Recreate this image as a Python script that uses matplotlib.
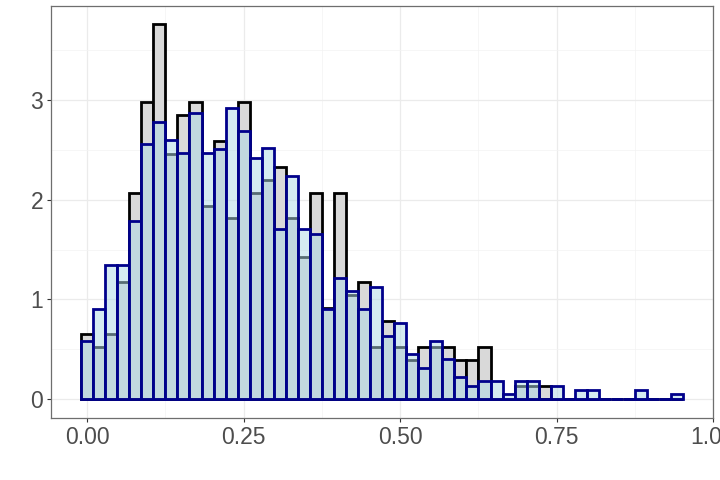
import numpy as np
import matplotlib
matplotlib.use("Agg")
import matplotlib.pyplot as plt
from matplotlib.ticker import MultipleLocator, FixedLocator

# ---- data (density per bin, 50 bins) ----
bin_first_center = 0.0
bin_last_center = 0.9427
n_bins = 50

gray_density = [0.65, 0.52, 0.65, 1.17, 2.07, 2.98, 3.76, 2.46, 2.85, 2.98,
                1.94, 2.59, 1.82, 2.98, 2.07, 2.20, 2.33, 1.82, 1.43, 2.07,
                0.91, 2.07, 1.04, 1.17, 0.52, 0.78, 0.52, 0.39, 0.52, 0.52,
                0.52, 0.39, 0.39, 0.52, 0.00, 0.00, 0.13, 0.13, 0.13, 0.00,
                0.00, 0.00, 0.00, 0.00, 0.00, 0.00, 0.00, 0.00, 0.00, 0.00]

blue_density = [0.58, 0.90, 1.34, 1.34, 1.79, 2.56, 2.78, 2.60, 2.47, 2.87,
                2.47, 2.51, 2.92, 2.69, 2.42, 2.52, 1.71, 2.24, 1.71, 1.66,
                0.90, 1.21, 1.08, 0.90, 1.12, 0.63, 0.76, 0.45, 0.31, 0.58,
                0.40, 0.22, 0.13, 0.18, 0.18, 0.045, 0.18, 0.18, 0.00, 0.13,
                0.00, 0.09, 0.09, 0.00, 0.00, 0.00, 0.09, 0.00, 0.00, 0.045]

x_ticks = [0.0, 0.25, 0.5, 0.75, 1.0]
x_tick_labels = ["0.00", "0.25", "0.50", "0.75", "1.00"]
y_ticks = [0, 1, 2, 3]
y_tick_labels = ["0", "1", "2", "3"]

# ---- layout ----
fig = plt.figure(figsize=(7.2, 4.8), dpi=100)
ax = fig.add_axes([51/720, (480-417.7)/480, (713.3-51)/720, (417.7-5.7)/480])

width = (bin_last_center - bin_first_center) / (n_bins - 1)
edges = np.linspace(bin_first_center - width/2, bin_last_center + width/2, n_bins + 1)

ax.bar(edges[:-1], gray_density, width=width, align='edge',
       facecolor='#D9D9D9', edgecolor='black', linewidth=2.0,
       joinstyle='miter', zorder=3)
ax.bar(edges[:-1], blue_density, width=width, align='edge',
       facecolor=(173/255, 216/255, 230/255, 0.5), edgecolor='#00008B',
       linewidth=2.0, joinstyle='miter', zorder=4)

# ggplot-like 5% expansion
xmin, xmax = edges[0], edges[-1]
xr = xmax - xmin
ax.set_xlim(xmin - 0.05*xr, xmax + 0.05*xr)
ymax = max(max(gray_density), max(blue_density))
ax.set_ylim(-0.05*ymax, 1.05*ymax)

ax.xaxis.set_major_locator(FixedLocator(x_ticks))
ax.set_xticklabels(x_tick_labels)
ax.yaxis.set_major_locator(FixedLocator(y_ticks))
ax.set_yticklabels(y_tick_labels)
ax.xaxis.set_minor_locator(MultipleLocator(0.125))
ax.yaxis.set_minor_locator(MultipleLocator(0.5))

ax.set_axisbelow(True)
ax.grid(which='major', color='#EBEBEB', linewidth=0.9, zorder=0)
ax.grid(which='minor', color='#F3F3F3', linewidth=0.5, zorder=0)

for s in ax.spines.values():
    s.set_color('#6E6E6E')
    s.set_linewidth(0.9)

ax.tick_params(which='major', length=3.2, width=0.8, color='#333333',
               labelsize=16.5, labelcolor='#4D4D4D', pad=2.5)
ax.tick_params(which='minor', length=0)
for lab in ax.get_xticklabels() + ax.get_yticklabels():
    lab.set_fontfamily('Liberation Sans')

fig.savefig('out.png', dpi=100)
